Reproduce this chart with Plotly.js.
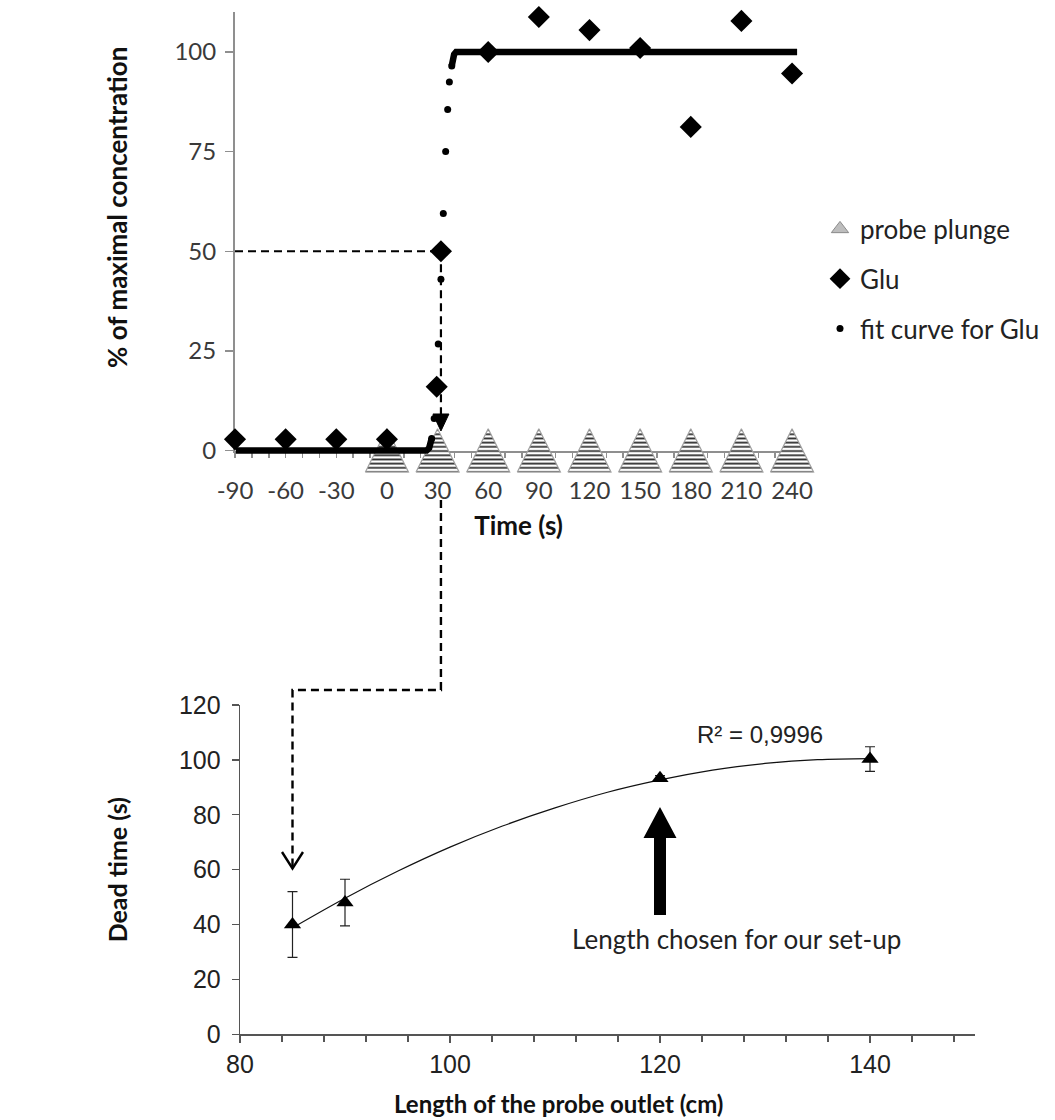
<!DOCTYPE html>
<html><head><meta charset="utf-8">
<script src="https://cdn.plot.ly/plotly-3.0.1.min.js"></script>
<style>html,body{margin:0;padding:0;background:#fff}#chart{width:1055px;height:1120px}</style>
</head><body><div id="chart"></div>
<script>
// ---------- data: top panel (time course) ----------
const probeTimes   = [0, 30, 60, 90, 120, 150, 180, 210, 240];
const gluTime      = [-90, -60, -30, 0, 29.5, 32, 60, 90, 120, 150, 180, 210, 240];
const gluValue     = [2.8, 2.8, 2.8, 2.8, 16, 50, 100, 108.8, 105.5, 101, 81.2, 107.8, 94.6];
const fitDotTime   = [26.5, 28, 30.4, 32, 33.4, 34.8, 36, 37, 38.4];
const fitDotValue  = [3, 8, 26.7, 43, 59.5, 75, 85.6, 92.5, 96.5];
const fitLowTime   = [-89.5, 23.5, 25, 26, 26.5];
const fitLowValue  = [0, 0, 0.6, 1.8, 3];
const fitHighTime  = [38.4, 39, 39.8, 41, 243];
const fitHighValue = [96.5, 98.3, 99.4, 100, 100];
const timeTicks    = [-90, -60, -30, 0, 30, 60, 90, 120, 150, 180, 210, 240];
const concTicks    = [0, 25, 50, 75, 100];
const halfMaxTime  = 32;
const halfMaxValue = 50;

// ---------- data: bottom panel (dead time vs outlet length) ----------
const outletLength  = [85, 90, 120, 140];
const deadTime      = [40, 48, 93.3, 100.3];
const deadTimeErr   = [12, 8.5, 1, 4.5];
const trendLength   = [85, 90, 95, 100, 105, 110, 115, 120, 125, 130, 135, 140];
const trendDeadTime = [38.8, 49.6, 59.4, 68.2, 75.9, 82.5, 88.2, 92.7, 96.3, 98.7, 100.1, 100.5];
const chosenLength  = 120;
const rSquaredText  = 'R² = 0,9996';

// ---------- geometry helpers (pixels -> paper) ----------
const W = 1055, H = 1120;
const fx = p => p / W, fy = p => 1 - p / H;
const T = {x0: 235, kx: 1.688, y0: 450.5, ky: 3.985};
const B = {x0: 240, kx: 10.5, y0: 1034.3, ky: 2.744};
const topX = t => T.x0 + (t + 90) * T.kx, topY = v => T.y0 - v * T.ky;
const botX = v => B.x0 + (v - 80) * B.kx, botY = v => B.y0 - v * B.ky;
const P = (x, y) => fx(x).toFixed(5) + ',' + fy(y).toFixed(5);

// triangle outlines for "probe plunge" (computed from probeTimes)
const triHalf = 12.8, triUp = 5.45, triDown = -5.45;
const triX = [], triY = [];
probeTimes.forEach(t => {
  triX.push(t - triHalf, t, t + triHalf, t - triHalf, null);
  triY.push(triDown, triUp, triDown, triDown, null);
});

const calibri = 'Lato, Carlito, "Open Sans", sans-serif';
const arial = '"Liberation Sans", Arial, sans-serif';

const traces = [
  {x: [null], y: [null], xaxis: 'x', yaxis: 'y', type: 'scatter', mode: 'markers', name: 'probe plunge',
   legendgroup: 'a', marker: {symbol: 'triangle-up', size: 15, color: '#bdbdbd', line: {color: '#8a8a8a', width: 1}}},
  {x: triX, y: triY, xaxis: 'x2', yaxis: 'y2', type: 'scatter', mode: 'lines', fill: 'toself',
   showlegend: false, hoverinfo: 'skip', legendgroup: 'a',
   line: {color: '#a0a0a0', width: 1.2},
   fillcolor: 'white',
   fillpattern: {shape: '-', fgcolor: '#2e2e2e', bgcolor: 'white', size: 4.2, solidity: 0.42}},
  {x: gluTime, y: gluValue, xaxis: 'x3', yaxis: 'y3', type: 'scatter', mode: 'markers', name: 'Glu',
   legendgroup: 'b', cliponaxis: false,
   marker: {symbol: 'diamond', size: 17, color: '#000'}},
  {x: fitLowTime, y: fitLowValue, xaxis: 'x3', yaxis: 'y3', type: 'scatter', mode: 'lines', showlegend: false,
   legendgroup: 'c', line: {color: '#000', width: 6.5}, hoverinfo: 'skip'},
  {x: fitHighTime, y: fitHighValue, xaxis: 'x3', yaxis: 'y3', type: 'scatter', mode: 'lines', showlegend: false,
   legendgroup: 'c', line: {color: '#000', width: 6.5}, hoverinfo: 'skip'},
  {x: fitDotTime, y: fitDotValue, xaxis: 'x3', yaxis: 'y3', type: 'scatter', mode: 'markers', name: 'fit curve for Glu',
   legendgroup: 'c', cliponaxis: false, marker: {symbol: 'circle', size: 7, color: '#000'}},
  {x: trendLength, y: trendDeadTime, xaxis: 'x4', yaxis: 'y4', type: 'scatter', mode: 'lines', showlegend: false,
   line: {color: '#111', width: 1.2, shape: 'spline'}, hoverinfo: 'skip'},
  {x: outletLength, y: deadTime, xaxis: 'x4', yaxis: 'y4', type: 'scatter', mode: 'markers', showlegend: false,
   cliponaxis: false,
   marker: {symbol: 'triangle-up', size: 15, color: '#000'},
   error_y: {type: 'data', array: deadTimeErr, visible: true, color: '#222', thickness: 1.2, width: 5}}
];

const topTickFont = {family: calibri, size: 24, color: '#3a3a3a'};
const botTickFont = {family: arial, size: 25, color: '#222'};
const grayAx = '#8f8f8f';

const layout = {
  width: W, height: H, autosize: false,
  margin: {l: 0, r: 0, t: 0, b: 0, pad: 0},
  paper_bgcolor: '#fff', plot_bgcolor: 'rgba(0,0,0,0)',
  showlegend: true,
  legend: {x: fx(820), xanchor: 'left', y: fy(279), yanchor: 'middle',
           font: {family: calibri, size: 26, color: '#222'},
           traceorder: 'grouped', tracegroupgap: 13, bgcolor: 'rgba(0,0,0,0)', itemwidth: 30},
  xaxis: {domain: [fx(topX(-90)), fx(topX(246))], range: [-90, 246], anchor: 'y',
          showline: true, linecolor: grayAx, linewidth: 2, showgrid: false, zeroline: false,
          ticks: 'outside', ticklen: 5, tickwidth: 1.5, tickcolor: grayAx,
          tickmode: 'array', tickvals: timeTicks, ticktext: timeTicks.map(String),
          minor: {tickmode: 'linear', tick0: -90, dtick: 10, ticks: 'outside', ticklen: 5, tickcolor: grayAx, tickwidth: 1.5},
          tickfont: topTickFont, ticklabelstandoff: 13,
          title: {text: 'Time (s)', font: {family: calibri, size: 26, color: '#111', weight: 'bold'}, standoff: 14}},
  yaxis: {domain: [fy(topY(0)), fy(topY(110))], range: [0, 110], anchor: 'x',
          showline: true, linecolor: grayAx, linewidth: 2, showgrid: false, zeroline: false,
          ticks: 'outside', ticklen: 8, tickwidth: 1.5, tickcolor: grayAx,
          tickmode: 'array', tickvals: concTicks, ticktext: concTicks.map(String),
          tickfont: topTickFont, ticklabelstandoff: 4},
  xaxis2: {domain: [fx(topX(-90)), fx(topX(262))], range: [-90, 262], anchor: 'y2', visible: false, fixedrange: true},
  yaxis2: {domain: [fy(topY(-5.6)), fy(topY(110))], range: [-5.6, 110], anchor: 'x2', visible: false, fixedrange: true},
  xaxis3: {domain: [fx(topX(-92)), fx(topX(246))], range: [-92, 246], anchor: 'y3', visible: false},
  yaxis3: {domain: [fy(topY(-5.6)), fy(topY(110))], range: [-5.6, 110], anchor: 'x3', visible: false},
  xaxis4: {domain: [fx(botX(80)), fx(botX(150))], range: [80, 150], anchor: 'y4',
           showline: true, linecolor: '#555', linewidth: 1.3, showgrid: false, zeroline: false,
           ticks: 'outside', ticklen: 7, tickwidth: 1.2, tickcolor: '#555', tick0: 80, dtick: 20,
           minor: {tick0: 80, dtick: 4, ticks: 'outside', ticklen: 6, tickcolor: '#555', tickwidth: 1.2},
           tickfont: botTickFont},
  yaxis4: {domain: [fy(botY(0)), fy(botY(120))], range: [0, 120], anchor: 'x4',
           showline: true, linecolor: '#555', linewidth: 1.3, showgrid: false, zeroline: false,
           ticks: 'outside', ticklen: 7, tickwidth: 1.2, tickcolor: '#555', tick0: 0, dtick: 20,
           tickfont: botTickFont, ticklabelstandoff: 6,
           title: {text: 'Dead time (s)', font: {family: calibri, size: 25, color: '#111', weight: 'bold'}, standoff: 44}},
  shapes: [
    {type: 'line', xref: 'x', yref: 'y', x0: -90, x1: halfMaxTime, y0: halfMaxValue, y1: halfMaxValue,
     line: {color: '#000', width: 2.2, dash: '8px,5px'}},
    {type: 'line', xref: 'x', yref: 'y', x0: halfMaxTime, x1: halfMaxTime, y0: halfMaxValue, y1: 9,
     line: {color: '#000', width: 2.2, dash: '8px,5px'}},
    {type: 'path', xref: 'paper', yref: 'paper',
     path: 'M' + P(topX(halfMaxTime) - 8, 414) + 'L' + P(topX(halfMaxTime), 431) + 'L' + P(topX(halfMaxTime) + 8, 414) + 'Z',
     fillcolor: '#000', line: {color: '#000', width: 1}},
    {type: 'path', xref: 'paper', yref: 'paper',
     path: 'M' + P(topX(halfMaxTime), 500) + 'L' + P(topX(halfMaxTime), 690) + 'L' + P(botX(85), 690) + 'L' + P(botX(85), 866),
     line: {color: '#000', width: 2.4, dash: '8px,5px'}},
    {type: 'path', xref: 'paper', yref: 'paper',
     path: 'M' + P(botX(85) - 10.5, 852) + 'L' + P(botX(85), 868.5) + 'L' + P(botX(85) + 10.5, 852),
     line: {color: '#000', width: 2.4}},
    {type: 'path', xref: 'paper', yref: 'paper',
     path: 'M' + P(botX(chosenLength) - 6, 915) + 'L' + P(botX(chosenLength) - 6, 838) + 'L' + P(botX(chosenLength) - 16.5, 838) +
           'L' + P(botX(chosenLength), 807) + 'L' + P(botX(chosenLength) + 16.5, 838) + 'L' + P(botX(chosenLength) + 6, 838) +
           'L' + P(botX(chosenLength) + 6, 915) + 'Z',
     fillcolor: '#000', line: {color: '#000', width: 0}}
  ],
  annotations: [
    {xref: 'paper', yref: 'paper', x: fx(117), y: fy(207), text: '% of maximal concentration', textangle: -90,
     showarrow: false, xanchor: 'center', yanchor: 'middle',
     font: {family: calibri, size: 26, color: '#111', weight: 'bold'}},
    {xref: 'paper', yref: 'paper', x: fx(558), y: fy(1103), text: 'Length of the probe outlet (cm)',
     showarrow: false, xanchor: 'center', yanchor: 'middle',
     font: {family: calibri, size: 24, color: '#111', weight: 'bold'}},
    {xref: 'paper', yref: 'paper', x: fx(760), y: fy(734), text: rSquaredText, showarrow: false,
     xanchor: 'center', yanchor: 'middle', font: {family: arial, size: 24, color: '#222'}},
    {xref: 'paper', yref: 'paper', x: fx(736), y: fy(939), text: 'Length chosen for our set-up', showarrow: false,
     xanchor: 'center', yanchor: 'middle', font: {family: calibri, size: 26, color: '#222'}}
  ]
};

Plotly.newPlot('chart', traces, layout, {staticPlot: true, displayModeBar: false});
</script>
</body></html>
